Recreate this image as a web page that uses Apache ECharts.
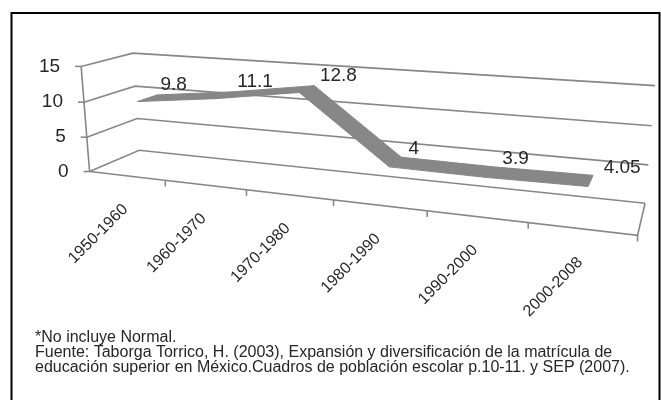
<!DOCTYPE html>
<html>
<head>
<meta charset="utf-8">
<script src="https://cdn.jsdelivr.net/npm/echarts@6/dist/echarts.min.js"></script>
<style>
  html, body { margin: 0; padding: 0; background: #fff; }
  #main { width: 661px; height: 400px; }
</style>
</head>
<body>
<div id="main"></div>
<script>
// datos del grafico
var categories = ['1950-1960', '1960-1970', '1970-1980', '1980-1990', '1990-2000', '2000-2008'];
var values = [9.8, 11.1, 12.8, 4, 3.9, 4.05];
var yTicks = [0, 5, 10, 15];
var notes = [
    '*No incluye Normal.',
    'Fuente: Taborga Torrico, H. (2003), Expansión y diversificación de la matrícula de',
    'educación superior en México.Cuadros de población escolar p.10-11. y SEP (2007).'
];

var FONT = 'Liberation Sans, Arial, sans-serif';
var GRID_COLOR = '#878787';
var RIBBON_COLOR = '#878787';
var TEXT_COLOR = '#262626';
var Y_MAX = yTicks[yTicks.length - 1];
var N = categories.length;
var Z1 = 0.3, Z2 = 0.7; // profundidad de la cinta

// caja 3D: [X (ranuras), valor, profundidad, px, py] -> calibra la perspectiva
var FRAME = [
    [0, 0, 0, 89, 172], [6, 0, 0, 638, 235], [0, 15, 0, 82, 66],
    [0, 0, 1, 140, 150], [6, 0, 1, 645, 203], [0, 15, 1, 132, 53], [6, 15, 1, 655, 86],
    [6, 10, 1, 652, 126],
    [1, 0, 0, 165, 180.7], [2, 0, 0, 247, 190.1], [3, 0, 0, 333, 200],
    [4, 0, 0, 427, 210.8], [5, 0, 0, 528, 222.4]
];

// resolver la matriz de proyeccion (minimos cuadrados)
function solveLinear (M, r) {
    var n = r.length, i, j, k
    for (var c = 0; c < n; c++) {
        var piv = c
        for (k = c + 1; k < n; k++) if (Math.abs(M[k][c]) > Math.abs(M[piv][c])) piv = k
        var t = M[c]; M[c] = M[piv]; M[piv] = t
        t = r[c]; r[c] = r[piv]; r[piv] = t
        for (k = c + 1; k < n; k++) {
            var f = M[k][c] / M[c][c]
            for (j = c; j < n; j++) M[k][j] -= f * M[c][j]
            r[k] -= f * r[c]
        }
    }
    var x = new Array(n)
    for (i = n - 1; i >= 0; i--) {
        var s = r[i]
        for (j = i + 1; j < n; j++) s -= M[i][j] * x[j]
        x[i] = s / M[i][i]
    }
    return x
}

function solveProjection (pts) {
    var rows = [], rhs = []
    pts.forEach(function (p) {
        var X = p[0] / 6, Y = p[1] / 15, Z = p[2], u = p[3] / 100, v = p[4] / 100
        rows.push([X, Y, Z, 1, 0, 0, 0, 0, -u * X, -u * Y, -u * Z]); rhs.push(u)
        rows.push([0, 0, 0, 0, X, Y, Z, 1, -v * X, -v * Y, -v * Z]); rhs.push(v)
    })
    var M = [], r = []
    for (var i = 0; i < 11; i++) { M.push(new Array(11).fill(0)); r.push(0) }
    for (var k = 0; k < rows.length; k++) {
        for (i = 0; i < 11; i++) {
            r[i] += rows[k][i] * rhs[k]
            for (var j = 0; j < 11; j++) M[i][j] += rows[k][i] * rows[k][j]
        }
    }
    return solveLinear(M, r)
}

var P = solveProjection(FRAME)

function proj (X, Y, Z) {
    var x = X / 6, y = Y / 15, z = Z
    var w = P[8] * x + P[9] * y + P[10] * z + 1
    return [
        (P[0] * x + P[1] * y + P[2] * z + P[3]) / w * 100,
        (P[4] * x + P[5] * y + P[6] * z + P[7]) / w * 100
    ]
}

// pixel del grid oculto -> [X en ranuras, valor]
function toModel (cs, pt) {
    return [(pt[0] - cs.x) / cs.width * N, (cs.y + cs.height - pt[1]) / cs.height * Y_MAX]
}

function renderFrame (params, api) {
    var cs = params.coordSys
    var children = []
    var lineStyle = { stroke: GRID_COLOR, lineWidth: 1.6, fill: null }
    yTicks.forEach(function (t) {
        var Y = toModel(cs, api.coord([0, t]))[1]
        children.push({ type: 'polyline', shape: { points: [proj(0, Y, 0), proj(0, Y, 1), proj(N, Y, 1)] }, style: lineStyle })
        var a = proj(0, Y, 0)
        children.push({ type: 'line', shape: { x1: a[0] - 6, y1: a[1], x2: a[0], y2: a[1] }, style: lineStyle })
        children.push({
            type: 'text', x: a[0] - 21, y: a[1],
            style: { text: String(t), fontSize: 19, fontFamily: FONT, fill: TEXT_COLOR, align: 'right', verticalAlign: 'middle' }
        })
    })
    // suelo y eje frontal
    children.push({ type: 'polyline', shape: { points: [proj(0, 0, 0), proj(N, 0, 0), proj(N, 0, 1)] }, style: lineStyle })
    children.push({ type: 'polyline', shape: { points: [proj(0, 0, 0), proj(0, Y_MAX, 0)] }, style: lineStyle })
    for (var k = 1; k <= N; k++) {
        var b = proj(k, 0, 0)
        children.push({ type: 'line', shape: { x1: b[0], y1: b[1], x2: b[0], y2: b[1] + 6 }, style: lineStyle })
    }
    categories.forEach(function (name, i) {
        var X = toModel(cs, api.coord([i, 0]))[0]
        var c = proj(X, 0, 0)
        children.push({
            type: 'text', x: c[0] - 1.5, y: c[1] + 31, rotation: Math.PI / 4,
            style: { text: name, fontSize: 16, fontFamily: FONT, fill: TEXT_COLOR, align: 'right', verticalAlign: 'middle' }
        })
    })
    return { type: 'group', children: children }
}

function renderRibbon (params, api) {
    var i = params.dataIndex
    if (i >= values.length - 1) return { type: 'group', children: [] }
    var cs = params.coordSys
    var a = toModel(cs, api.coord([api.value(0), api.value(1)]))
    var b = toModel(cs, api.coord([i + 1, values[i + 1]]))
    var pts = [proj(a[0], a[1], Z1), proj(b[0], b[1], Z1), proj(b[0], b[1], Z2), proj(a[0], a[1], Z2)]
    return { type: 'polygon', shape: { points: pts }, style: { fill: RIBBON_COLOR, stroke: RIBBON_COLOR, lineWidth: 1 } }
}

function renderLabel (params, api) {
    var cs = params.coordSys
    var m = toModel(cs, api.coord([api.value(0), api.value(1)]))
    var p = proj(m[0], m[1], (Z1 + Z2) / 2)
    return {
        type: 'text', x: p[0] + 13, y: p[1] - 13,
        style: { text: String(api.value(1)), fontSize: 19, fontFamily: FONT, fill: TEXT_COLOR, align: 'left', verticalAlign: 'middle' }
    }
}

var chart = echarts.init(document.getElementById('main'))
var seriesData = values.map(function (v, i) { return [i, v] })

chart.setOption({
    animation: false,
    backgroundColor: '#fff',
    title: {
        text: notes.join('\n'),
        left: 35, top: 330, padding: 0,
        textStyle: { fontSize: 16, fontWeight: 'normal', color: TEXT_COLOR, fontFamily: FONT, lineHeight: 15 }
    },
    graphic: [{
        type: 'rect', shape: { x: 11.5, y: 13, width: 648, height: 420 },
        style: { stroke: '#000', lineWidth: 2, fill: null }, silent: true
    }],
    grid: { left: 100, right: 100, top: 60, bottom: 160 },
    xAxis: { type: 'category', data: categories, show: false },
    yAxis: { type: 'value', min: 0, max: Y_MAX, interval: 5, show: false },
    series: [
        { type: 'custom', renderItem: renderFrame, data: [[0, 0]], clip: false, silent: true, z: 1 },
        { type: 'custom', renderItem: renderRibbon, data: seriesData, clip: false, silent: true, z: 2 },
        { type: 'custom', renderItem: renderLabel, data: seriesData, clip: false, silent: true, z: 3 }
    ]
})
</script>
</body>
</html>
